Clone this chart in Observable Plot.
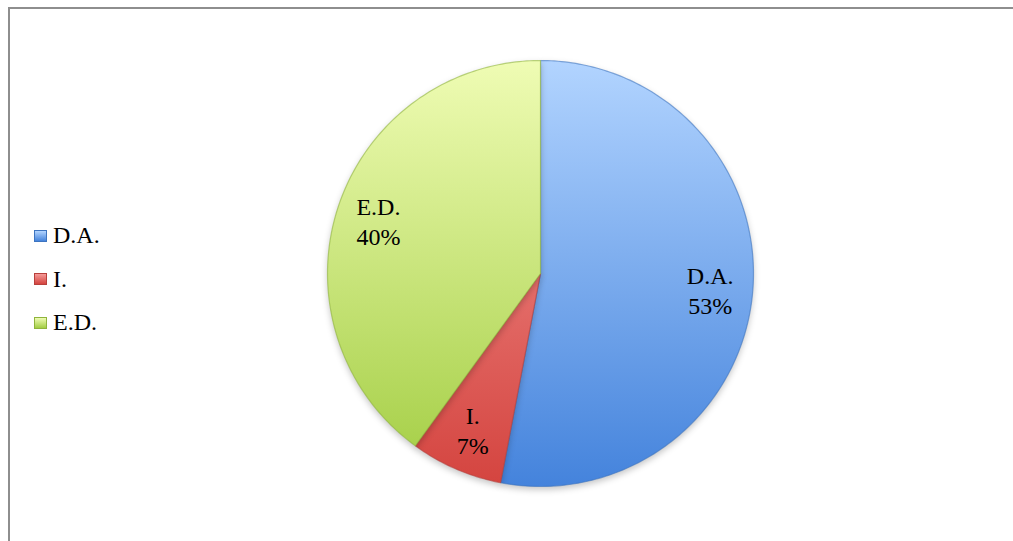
<!DOCTYPE html>
<html>
<head>
<meta charset="utf-8">
<script src="https://cdn.jsdelivr.net/npm/d3@7"></script>
<script src="https://cdn.jsdelivr.net/npm/@observablehq/plot@0.6"></script>
<style>
  html, body { margin: 0; padding: 0; background: #fff; overflow: hidden; }
  #wrap { position: relative; width: 1013px; height: 541px; overflow: hidden; }
  #hline { position: absolute; left: 8px; top: 7px; width: 1010px; height: 2px; background: #8e8e8e; }
  #vline { position: absolute; left: 8px; top: 7px; width: 2px; height: 540px; background: #8e8e8e; }
  #chart { position: absolute; left: 0; top: 0; }
  #legend { position: absolute; left: 34px; top: 214px; font-family: "Liberation Serif", "DejaVu Serif", serif;
            font-size: 24px; color: #000; }
  .item { display: flex; align-items: center; height: 43.5px; }
  .sw { width: 13px; height: 12px; margin-right: 6px; box-sizing: border-box; }
  svg g[aria-label="line"] { filter: drop-shadow(0px 3px 3px rgba(0,0,0,0.22)); }
</style>
</head>
<body>
<div id="wrap">
  <div id="hline"></div>
  <div id="vline"></div>
  <div id="chart"></div>
  <div id="legend"></div>
</div>
<script>
// Data
const categories = ["D.A.", "I.", "E.D."];
const values = [53, 7, 40];
const labels = ["53%", "7%", "40%"];
const gradIds = ["gDA", "gI", "gED"];
const gradStops = [
  ["#b2d4ff", "#4483dc"],
  ["#f59a98", "#d4443f"],
  ["#effcb4", "#a2cd42"]
];
const edgeColors = ["#3d74c0", "#b8403c", "#8fb43c"];

const pie = d3.pie().sort(null).value(d => d.value);
const arcs = pie(categories.map((c, i) => ({category: c, value: values[i], i})));

// Build polygon outlines (in unit coordinates) from pie angles
const poly = [];
arcs.forEach(a => {
  const n = Math.max(8, Math.ceil((a.endAngle - a.startAngle) * 60));
  poly.push({category: a.data.category, x: 0, y: 0, i: a.data.i});
  for (let k = 0; k <= n; k++) {
    const t = a.startAngle + (a.endAngle - a.startAngle) * k / n;
    poly.push({category: a.data.category, x: Math.sin(t), y: Math.cos(t), i: a.data.i});
  }
  poly.push({category: a.data.category, x: 0, y: 0, i: a.data.i});
});

const labelR = 0.8;
const labelData = arcs.map(a => {
  const m = (a.startAngle + a.endAngle) / 2;
  return {x: labelR * Math.sin(m), y: labelR * Math.cos(m), text: a.data.category + "\n" + labels[a.data.i]};
});

const cx = 540, cy = 273, R = 213;

const defsMark = () => {
  const ns = "http://www.w3.org/2000/svg";
  const defs = document.createElementNS(ns, "defs");
  gradIds.forEach((id, i) => {
    const g = document.createElementNS(ns, "linearGradient");
    g.setAttribute("id", id);
    g.setAttribute("gradientUnits", "userSpaceOnUse");
    g.setAttribute("x1", cx); g.setAttribute("x2", cx);
    g.setAttribute("y1", cy - R); g.setAttribute("y2", cy + R);
    [[0, gradStops[i][0]], [1, gradStops[i][1]]].forEach(([o, c]) => {
      const s = document.createElementNS(ns, "stop");
      s.setAttribute("offset", o); s.setAttribute("stop-color", c);
      g.appendChild(s);
    });
    defs.appendChild(g);
  });
  return defs;
};

const marks = [defsMark];
categories.forEach((c, i) => {
  marks.push(Plot.line(poly.filter(d => d.category === c), {
    x: "x", y: "y", fill: `url(#${gradIds[i]})`, stroke: edgeColors[i], strokeWidth: 1.2,
    strokeOpacity: 0.6, curve: "linear"
  }));
});
marks.push(Plot.text(labelData, {
  x: "x", y: "y", text: "text", fontSize: 24, fill: "#000", lineHeight: 1.25,
  fontFamily: "Liberation Serif, DejaVu Serif, serif"
}));

const chart = Plot.plot({
  width: 1013, height: 541,
  margin: 0,
  x: {domain: [-1, 1], range: [cx - R, cx + R], axis: null},
  y: {domain: [-1, 1], range: [cy + R, cy - R], axis: null},
  style: {background: "transparent", overflow: "visible"},
  marks
});
document.getElementById("chart").appendChild(chart);

// Legend
const legend = document.getElementById("legend");
categories.forEach((c, i) => {
  const item = document.createElement("div");
  item.className = "item";
  const sw = document.createElement("div");
  sw.className = "sw";
  sw.style.background = `linear-gradient(to bottom, ${gradStops[i][0]}, ${gradStops[i][1]})`;
  sw.style.border = `1px solid ${edgeColors[i]}`;
  const t = document.createElement("span");
  t.textContent = c;
  item.appendChild(sw); item.appendChild(t);
  legend.appendChild(item);
});
</script>
</body>
</html>
